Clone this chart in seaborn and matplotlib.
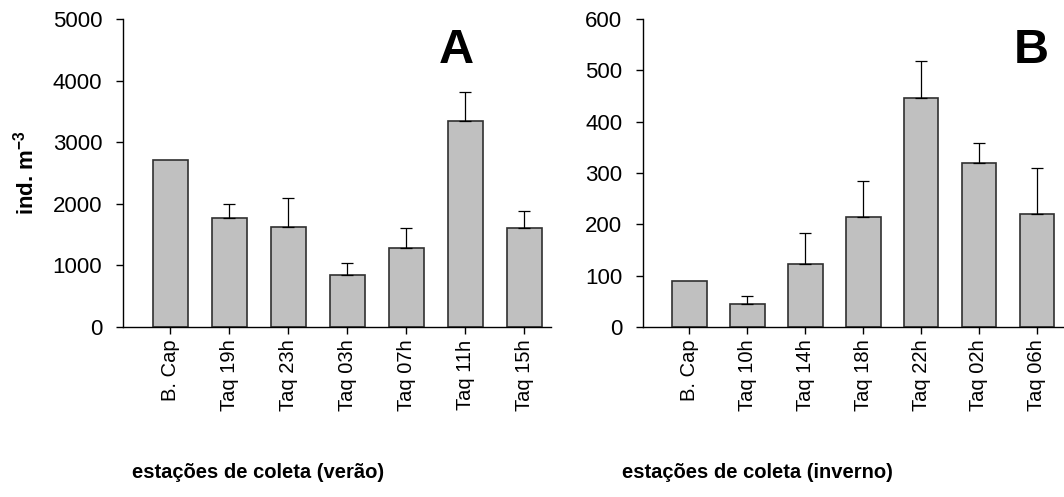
import matplotlib
matplotlib.use("Agg")
import matplotlib.pyplot as plt
import seaborn as sns
import pandas as pd
import numpy as np

# ---- data ----
cats_a = ["B. Cap", "Taq 19h", "Taq 23h", "Taq 03h", "Taq 07h", "Taq 11h", "Taq 15h"]
mean_a = [2710, 1770, 1630, 850, 1290, 3350, 1615]
err_a = [0, 230, 470, 185, 310, 460, 265]

cats_b = ["B. Cap", "Taq 10h", "Taq 14h", "Taq 18h", "Taq 22h", "Taq 02h", "Taq 06h"]
mean_b = [90, 45, 122, 215, 447, 319, 220]
err_b = [0, 15, 61, 69, 72, 39, 90]

yticks_a = [0, 1000, 2000, 3000, 4000, 5000]
yticks_b = [0, 100, 200, 300, 400, 500, 600]

xlabel_a = "estações de coleta (verão)"
xlabel_b = "estações de coleta (inverno)"
ylabel = r"ind. m$^{\mathbf{-3}}$"

sns.set_style("ticks")
plt.rcParams["font.family"] = ["Liberation Sans", "DejaVu Sans"]
plt.rcParams["text.color"] = "black"
plt.rcParams["axes.labelcolor"] = "black"
plt.rcParams["xtick.color"] = "black"
plt.rcParams["ytick.color"] = "black"
plt.rcParams["mathtext.fontset"] = "custom"
plt.rcParams["mathtext.bf"] = "Liberation Sans:bold"
plt.rcParams["mathtext.rm"] = "Liberation Sans"

fig = plt.figure(figsize=(10.64, 4.97), dpi=100)
W, H = 1064, 497
ax_a = fig.add_axes([123 / W, 1 - 327 / H, 428 / W, 308 / H])
ax_b = fig.add_axes([643 / W, 1 - 327 / H, 420 / W, 308 / H])


def draw(ax, cats, means, errs, yticks, xlabel, letter, letter_x, label_x):
    df = pd.DataFrame({"cat": cats, "val": means})
    sns.barplot(data=df, x="cat", y="val", ax=ax, color="#c0c0c0",
                saturation=1, width=0.6, edgecolor="#303030", linewidth=1.2)
    x = np.arange(len(cats))
    e = np.array(errs, dtype=float)
    m = np.array(means, dtype=float)
    mask = e > 0
    ax.errorbar(x[mask], m[mask], yerr=[np.zeros(mask.sum()), e[mask]],
                fmt="none", ecolor="black", elinewidth=0.9, capsize=4.5,
                capthick=0.9, zorder=1)
    ax.set_ylim(yticks[0], yticks[-1])
    ax.set_yticks(yticks)
    ax.set_xlim(-0.80, 6.45)
    ax.set_xlabel(xlabel, fontsize=14.5, fontweight="bold")
    ax.xaxis.set_label_coords(label_x, -0.44)
    ax.set_ylabel("")
    ax.tick_params(axis="x", labelrotation=90, labelsize=14.5, length=5,
                   width=1, pad=4, color="black")
    ax.tick_params(axis="y", labelsize=16, length=5, width=1, pad=10,
                   color="black")
    for s in ["top", "right"]:
        ax.spines[s].set_visible(False)
    for s in ["left", "bottom"]:
        ax.spines[s].set_color("black")
        ax.spines[s].set_linewidth(1)
    ax.text(letter_x, 0.898, letter, transform=ax.transAxes, fontsize=35,
            fontweight="bold", ha="center", va="center", color="black")


draw(ax_a, cats_a, mean_a, err_a, yticks_a, xlabel_a, "A", (456 - 123) / 428,
     (258 - 123) / 428)
draw(ax_b, cats_b, mean_b, err_b, yticks_b, xlabel_b, "B", (1031 - 643) / 420,
     (757 - 643) / 420)

ax_a.set_ylabel(ylabel, fontsize=16, fontweight="bold")
ax_a.yaxis.set_label_coords(-0.197, 0.5)

fig.savefig("out.png", dpi=100, facecolor="white")
